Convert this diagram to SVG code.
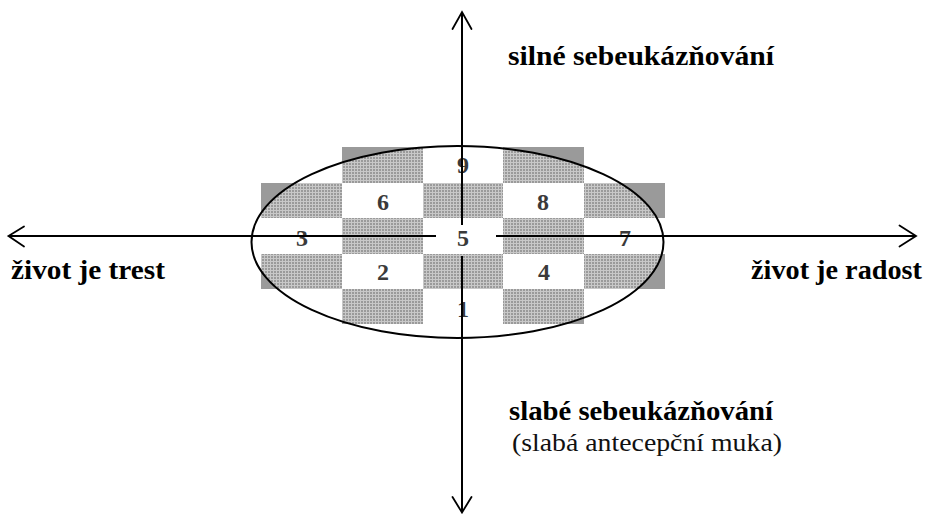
<svg xmlns="http://www.w3.org/2000/svg" width="928" height="514" viewBox="0 0 928 514">
  <style>
    .g { fill: #9a9a9a; }
    .num { font-family: 'Liberation Serif', 'Times New Roman', serif; font-size: 24px; font-weight: bold; fill: #3a3a3a; text-anchor: middle; }
    .lab { font-family: 'Liberation Serif', 'Times New Roman', serif; font-size: 27px; font-weight: bold; fill: #000; }
    .sub { font-family: 'Liberation Serif', 'Times New Roman', serif; font-size: 26px; fill: #111; }
    .axis { stroke: #000; stroke-width: 2; fill: none; }
    .head { stroke: #000; stroke-width: 1.8; fill: none; stroke-linecap: round; stroke-linejoin: miter; }
  </style>
  <defs>
    <pattern id="tex" width="3" height="3" patternUnits="userSpaceOnUse">
      <rect x="0" y="0" width="3" height="1" fill="#fff" fill-opacity="0.45"/>
      <rect x="0" y="1" width="1" height="2" fill="#fff" fill-opacity="0.45"/>
    </pattern>
  </defs>
  <rect width="928" height="514" fill="#fff"/>

  <g id="grid">
    <rect class="g" x="342" y="147" width="81" height="36"/>
    <rect class="g" x="503" y="147" width="81" height="36"/>
    <rect class="g" x="261" y="183" width="81" height="35"/>
    <rect class="g" x="423" y="183" width="80" height="35"/>
    <rect class="g" x="584" y="183" width="81" height="35"/>
    <rect class="g" x="342" y="218" width="81" height="36"/>
    <rect class="g" x="503" y="218" width="81" height="36"/>
    <rect class="g" x="261" y="254" width="81" height="35"/>
    <rect class="g" x="423" y="254" width="80" height="35"/>
    <rect class="g" x="584" y="254" width="81" height="35"/>
    <rect class="g" x="342" y="289" width="81" height="35"/>
    <rect class="g" x="503" y="289" width="81" height="35"/>
  </g>

  <g id="ellipse">
    <ellipse cx="457.5" cy="242" rx="206" ry="96" fill="url(#tex)" stroke="#000" stroke-width="2"/>
  </g>

  <g id="cells">
    <g id="cell-9"><text class="num" x="463" y="173">9</text></g>
    <g id="cell-6"><text class="num" x="383" y="210">6</text></g>
    <g id="cell-8"><text class="num" x="543" y="210">8</text></g>
    <g id="cell-3"><text class="num" x="302" y="246">3</text></g>
    <g id="cell-5"><text class="num" x="463" y="246">5</text></g>
    <g id="cell-7"><text class="num" x="625" y="246">7</text></g>
    <g id="cell-2"><text class="num" x="383" y="280">2</text></g>
    <g id="cell-4"><text class="num" x="544" y="280">4</text></g>
    <g id="cell-1"><text class="num" x="463" y="317">1</text></g>
  </g>

  <g id="connectors">
    <line class="axis" x1="462" y1="13" x2="462" y2="225"/>
    <line class="axis" x1="462" y1="256" x2="462" y2="511"/>
    <line class="axis" x1="9" y1="236" x2="436" y2="236"/>
    <line class="axis" x1="496" y1="236" x2="915" y2="236"/>
    <polyline class="head" points="452.5,29 462,12 471.5,29"/>
    <polyline class="head" points="452.5,497 462,512.5 471.5,497"/>
    <polyline class="head" points="24,226.5 8.5,236 24,246.5"/>
    <polyline class="head" points="899.5,225.5 916,236 899.5,246.5"/>
  </g>

  <g id="label-top"><text class="lab" x="508" y="65" textLength="266" lengthAdjust="spacingAndGlyphs">silné sebeukázňování</text></g>
  <g id="label-left"><text class="lab" x="11" y="279" textLength="154" lengthAdjust="spacingAndGlyphs">život je trest</text></g>
  <g id="label-right"><text class="lab" x="751" y="279" textLength="171" lengthAdjust="spacingAndGlyphs">život je radost</text></g>
  <g id="label-bottom">
    <text class="lab" x="509" y="420" textLength="264" lengthAdjust="spacingAndGlyphs">slabé sebeukázňování</text>
    <text class="sub" x="512" y="451" textLength="270" lengthAdjust="spacingAndGlyphs">(slabá antecepční muka)</text>
  </g>
</svg>
